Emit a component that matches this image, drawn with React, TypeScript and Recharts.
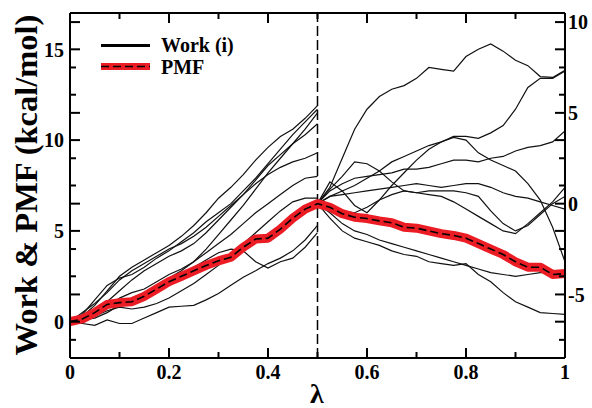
import { LineChart, Line, XAxis, YAxis, ReferenceLine } from "recharts";

const SERIF = '"Liberation Serif", "Times New Roman", serif';
const RED = "#ec1c24";

// lambda grid: 0 .. 1 in steps of 0.025 (each half has 21 samples)
const HALF_POINTS = 21;
const STEP = 0.025;

// forward half, lambda 0 -> 0.5 (kcal/mol, left axis)
const WORK_L1 = [0, 0.3, 0.9, 1.7, 2.5, 3.0, 3.4, 3.8, 4.2, 4.7, 5.3, 6.0, 6.8, 7.4, 8.1, 8.9, 9.6, 10.2, 10.6, 11.2, 11.9];
const WORK_L2 = [0, 0.1, 0.4, 0.8, 1.3, 1.6, 1.8, 2.2, 2.6, 2.9, 3.3, 4.0, 4.8, 5.6, 6.4, 7.3, 8.2, 9.0, 9.8, 10.6, 11.5];
const WORK_L3 = [0, 0.2, 0.6, 1.1, 1.7, 2.3, 2.8, 3.2, 3.6, 3.9, 4.3, 4.9, 5.6, 6.3, 7.0, 7.8, 8.6, 9.2, 9.8, 10.3, 10.9];
const WORK_L4 = [0, 0.4, 1.2, 2.0, 2.4, 2.6, 3.0, 3.5, 3.9, 4.4, 4.9, 5.5, 6.0, 6.5, 7.2, 7.9, 8.7, 9.5, 10.3, 11.0, 11.7];
const WORK_L5 = [0, 0.5, 1.0, 1.6, 2.3, 2.8, 3.2, 3.6, 4.0, 4.3, 4.7, 5.2, 5.8, 6.4, 7.0, 7.6, 8.1, 8.5, 8.8, 9.0, 9.3];
const WORK_L6 = [0, 0.2, 0.5, 0.8, 1.0, 1.3, 1.6, 2.0, 2.4, 2.8, 3.3, 3.8, 4.3, 4.8, 5.4, 6.0, 6.5, 7.0, 7.5, 7.9, 8.0];
const WORK_L7 = [0, 0.1, 0.3, 0.6, 0.8, 0.7, 0.8, 1.0, 1.3, 1.7, 2.1, 2.6, 3.1, 3.7, 4.3, 4.9, 5.5, 6.1, 6.6, 6.8, 6.8];
const WORK_L8 = [0, 0.1, 0.2, 0.5, 0.9, 1.2, 1.5, 1.9, 2.2, 2.6, 3.0, 3.4, 3.8, 4.0, 3.9, 3.3, 2.95, 3.3, 3.5, 4.1, 4.9];
const WORK_L9 = [0, -0.1, -0.2, 0.1, -0.1, -0.1, 0.2, 0.5, 0.8, 0.85, 0.9, 1.2, 1.55, 2.0, 2.45, 2.8, 3.2, 3.5, 3.9, 4.5, 5.3];

// second half, lambda 0.5 -> 1 (restarted from the PMF value at 0.5)
const WORK_R1 = [6.5, 7.4, 9.0, 10.6, 11.7, 12.4, 12.8, 13.0, 13.4, 14.0, 13.9, 13.8, 14.6, 15.0, 15.3, 14.9, 14.4, 14.1, 13.5, 13.45, 13.85];
const WORK_R2 = [6.5, 7.7, 7.2, 6.4, 6.0, 6.7, 7.5, 8.2, 8.9, 9.5, 9.9, 10.2, 10.2, 10.1, 10.4, 10.8, 11.7, 12.9, 13.4, 13.4, 13.8];
const WORK_R3 = [6.5, 7.2, 7.6, 7.9, 8.0, 8.1, 8.2, 8.4, 8.4, 8.5, 8.7, 8.9, 8.9, 8.8, 9.0, 9.1, 9.4, 9.6, 9.7, 9.9, 10.5];
const WORK_R4 = [6.5, 7.3, 8.0, 8.8, 8.7, 8.3, 7.7, 7.2, 7.1, 7.2, 7.2, 7.2, 7.1, 6.9, 6.1, 5.4, 5.0, 5.3, 5.9, 6.5, 6.9];
const WORK_R5 = [6.5, 6.9, 7.2, 7.5, 7.9, 8.3, 8.8, 9.1, 9.4, 9.7, 9.9, 10.15, 10.0, 9.3, 8.9, 8.6, 8.3, 7.6, 6.7, 5.2, 3.3];
const WORK_R6 = [6.5, 6.9, 7.0, 7.1, 7.2, 7.3, 7.4, 7.5, 7.6, 7.5, 7.4, 7.5, 7.6, 7.6, 7.4, 7.1, 6.9, 6.8, 6.6, 6.4, 6.2];
const WORK_R7 = [6.5, 6.4, 6.1, 6.0, 6.3, 6.7, 7.0, 7.2, 7.1, 7.0, 6.9, 6.6, 6.2, 5.8, 5.4, 5.0, 4.85, 5.4, 6.0, 6.6, 7.4];
const WORK_R8 = [6.5, 6.0, 5.4, 5.0, 4.8, 4.5, 4.3, 4.1, 3.9, 3.7, 3.5, 3.3, 3.1, 2.9, 2.7, 2.6, 2.5, 2.6, 2.7, 2.7, 2.8];
const WORK_R9 = [6.5, 5.7, 5.0, 4.6, 4.4, 4.2, 3.9, 3.7, 3.6, 3.3, 3.2, 3.1, 3.2, 2.6, 2.2, 1.6, 1.1, 0.8, 0.5, 0.45, 0.4];

const PMF_LEFT = [0, 0.15, 0.5, 0.95, 1.05, 1.1, 1.4, 1.8, 2.2, 2.5, 2.8, 3.1, 3.35, 3.55, 4.1, 4.55, 4.6, 5.1, 5.7, 6.2, 6.5];
const PMF_RIGHT = [6.5, 6.3, 5.95, 5.75, 5.68, 5.55, 5.45, 5.2, 5.15, 5.0, 4.85, 4.75, 4.6, 4.3, 4.0, 3.7, 3.3, 3.0, 3.0, 2.6, 2.65];

const LEFT_RUNS = [WORK_L1, WORK_L2, WORK_L3, WORK_L4, WORK_L5, WORK_L6, WORK_L7, WORK_L8, WORK_L9];
const RIGHT_RUNS = [WORK_R1, WORK_R2, WORK_R3, WORK_R4, WORK_R5, WORK_R6, WORK_R7, WORK_R8, WORK_R9];

// axes
const RIGHT_SHIFT = 6.5; // right axis = left axis - PMF(0.5)
const LEFT_DOMAIN = [-2, 17];
const LEFT_MAJOR = [0, 5, 10, 15];
const LEFT_MINOR = [2.5, 7.5, 12.5];
const RIGHT_MAJOR = [-5, 0, 5, 10];
const RIGHT_MINOR = [-7.5, -2.5, 2.5, 7.5];
const X_TICKS = [0, 0.1, 0.2, 0.3, 0.4, 0.5, 0.6, 0.7, 0.8, 0.9, 1];
const X_MAJOR = [0, 0.2, 0.4, 0.6, 0.8, 1];

const rows: any[] = [];
for (let i = 0; i < HALF_POINTS * 2 - 1; i++) {
  const row: any = { x: +(i * STEP).toFixed(3) };
  if (i < HALF_POINTS) {
    LEFT_RUNS.forEach((r, k) => (row[`l${k}`] = r[i]));
    row.pmf = PMF_LEFT[i];
  }
  if (i >= HALF_POINTS - 1) {
    const j = i - HALF_POINTS + 1;
    RIGHT_RUNS.forEach((r, k) => (row[`r${k}`] = r[j]));
    row.pmf = PMF_RIGHT[j];
  }
  rows.push(row);
}

const leftLong = [...LEFT_MAJOR, ...RIGHT_MAJOR.map((v) => v + RIGHT_SHIFT)];
const leftShort = [...LEFT_MINOR, ...RIGHT_MINOR.map((v) => v + RIGHT_SHIFT)];
const rightLong = [...RIGHT_MAJOR, ...LEFT_MAJOR.map((v) => v - RIGHT_SHIFT)];
const rightShort = [...RIGHT_MINOR, ...LEFT_MINOR.map((v) => v - RIGHT_SHIFT)];

const near = (list: number[], v: number) => list.some((t) => Math.abs(t - v) < 1e-6);

const labelStyle = { fontFamily: SERIF, fontWeight: 700, fontSize: 20, fill: "#000" };

function LeftTick({ x, y, payload }: any) {
  const v = payload.value;
  const len = near(leftLong, v) ? 10 : 6;
  return (
    <g>
      <line x1={x} x2={x + len} y1={y} y2={y} stroke="#000" strokeWidth={2} />
      {near(LEFT_MAJOR, v) && (
        <text x={x - 6} y={y} dy="0.36em" textAnchor="end" style={labelStyle}>
          {v}
        </text>
      )}
    </g>
  );
}

function RightTick({ x, y, payload }: any) {
  const v = payload.value;
  const len = near(rightLong, v) ? 10 : 6;
  return (
    <g>
      <line x1={x} x2={x - len} y1={y} y2={y} stroke="#000" strokeWidth={2} />
      {near(RIGHT_MAJOR, v) && (
        <text x={x + 3} y={y} dy="0.36em" textAnchor="start" style={labelStyle}>
          {v}
        </text>
      )}
    </g>
  );
}

function BottomTick({ x, y, payload }: any) {
  const v = payload.value;
  const major = near(X_MAJOR, v);
  return (
    <g>
      <line x1={x} x2={x} y1={y} y2={y - (major ? 10 : 6)} stroke="#000" strokeWidth={2} />
      {major && (
        <text x={x} y={y + 21} textAnchor="middle" style={labelStyle}>
          {String(v)}
        </text>
      )}
    </g>
  );
}

function TopTick({ x, y, payload }: any) {
  const major = near(X_MAJOR, payload.value);
  return <line x1={x} x2={x} y1={y} y2={y + (major ? 10 : 6)} stroke="#000" strokeWidth={2} />;
}

const axisLine = { stroke: "#000", strokeWidth: 2 };

export default function App() {
  return (
    <div style={{ position: "absolute", left: 0, top: 0, width: 592, height: 408, background: "#fff" }}>
      <LineChart
        width={592}
        height={408}
        data={rows}
        margin={{ top: 12, right: 0, bottom: 0, left: 0 }}
      >
        <XAxis
          dataKey="x"
          type="number"
          domain={[0, 1]}
          ticks={X_TICKS}
          interval={0}
          height={50}
          tickSize={0}
          tickMargin={0}
          tickLine={false}
          tick={BottomTick}
          axisLine={axisLine}
          allowDataOverflow
        />
        <XAxis
          xAxisId="top"
          orientation="top"
          dataKey="x"
          type="number"
          domain={[0, 1]}
          ticks={X_TICKS}
          interval={0}
          height={1}
          tickSize={0}
          tickMargin={0}
          tickLine={false}
          tick={TopTick}
          axisLine={axisLine}
          allowDataOverflow
        />
        <YAxis
          yAxisId="left"
          type="number"
          domain={LEFT_DOMAIN}
          ticks={[...leftLong, ...leftShort].sort((a, b) => a - b)}
          interval={0}
          width={70}
          tickSize={0}
          tickMargin={0}
          tickLine={false}
          tick={LeftTick}
          axisLine={axisLine}
          allowDataOverflow
        />
        <YAxis
          yAxisId="right"
          orientation="right"
          type="number"
          domain={[LEFT_DOMAIN[0] - RIGHT_SHIFT, LEFT_DOMAIN[1] - RIGHT_SHIFT]}
          ticks={[...rightLong, ...rightShort].sort((a, b) => a - b)}
          interval={0}
          width={27}
          tickSize={0}
          tickMargin={0}
          tickLine={false}
          tick={RightTick}
          axisLine={axisLine}
          allowDataOverflow
        />
        <ReferenceLine
          x={0.5}
          yAxisId="left"
          stroke="#000"
          strokeWidth={1.5}
          strokeDasharray="10 4"
        />
        {LEFT_RUNS.map((_, k) => (
          <Line
            key={`l${k}`}
            yAxisId="left"
            dataKey={`l${k}`}
            stroke="#111"
            strokeWidth={1.2}
            dot={false}
            activeDot={false}
            isAnimationActive={false}
          />
        ))}
        {RIGHT_RUNS.map((_, k) => (
          <Line
            key={`r${k}`}
            yAxisId="left"
            dataKey={`r${k}`}
            stroke="#111"
            strokeWidth={1.2}
            dot={false}
            activeDot={false}
            isAnimationActive={false}
          />
        ))}
        <Line
          yAxisId="left"
          dataKey="pmf"
          stroke={RED}
          strokeWidth={9}
          strokeLinejoin="round"
          strokeLinecap="round"
          dot={false}
          activeDot={false}
          isAnimationActive={false}
        />
        <Line
          yAxisId="left"
          dataKey="pmf"
          stroke="#000"
          strokeWidth={1.6}
          strokeDasharray="8 4"
          dot={false}
          activeDot={false}
          isAnimationActive={false}
        />
      </LineChart>
      <svg
        width={592}
        height={408}
        style={{ position: "absolute", left: 0, top: 0, pointerEvents: "none" }}
      >
        <text
          transform="translate(37,185) rotate(-90)"
          textAnchor="middle"
          style={{ fontFamily: SERIF, fontWeight: 700, fontSize: 32.5, fill: "#000" }}
        >
          Work &amp; PMF (kcal/mol)
        </text>
        <text
          x={317}
          y={403}
          textAnchor="middle"
          style={{ fontFamily: SERIF, fontWeight: 700, fontSize: 28, fill: "#000" }}
        >
          λ
        </text>
        <line x1={101} x2={150} y1={45.5} y2={45.5} stroke="#000" strokeWidth={3} />
        <text x={161} y={52} style={labelStyle}>
          Work (i)
        </text>
        <rect x={101} y={63} width={49} height={7} fill={RED} />
        <line x1={101} x2={150} y1={66.5} y2={66.5} stroke="#000" strokeWidth={1.6} strokeDasharray="8 4" />
        <text x={161} y={74} style={labelStyle}>
          PMF
        </text>
      </svg>
    </div>
  );
}
